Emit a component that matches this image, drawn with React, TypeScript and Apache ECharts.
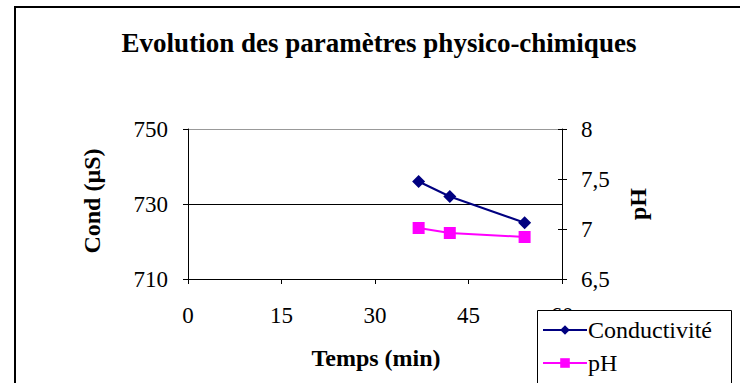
import React, { useEffect, useRef } from "react";
import * as echarts from "echarts";

const chartTitle = "Evolution des paramètres physico-chimiques";
const xTitle = "Temps (min)";
const leftTitle = "Cond (µS)";
const rightTitle = "pH";
const times = [37, 42, 54];
const conductivity = [736, 732, 725];
const phValues = [7.01, 6.96, 6.92];
const seriesNames = ["Conductivité", "pH"];

const FONT = "'Liberation Serif', 'Times New Roman', serif";

export default function App() {
  const ref = useRef<HTMLDivElement>(null);
  useEffect(() => {
    if (!ref.current) return;
    const chart = echarts.init(ref.current, null, { renderer: "svg" });
    const axisLabelStyle = { color: "#000", fontFamily: FONT, fontSize: 23 };
    chart.setOption({
      animation: false,
      backgroundColor: "#fff",
      textStyle: { fontFamily: FONT },
      grid: { left: 188, right: 178, top: 129, bottom: 104 },
      xAxis: {
        type: "value",
        min: 0,
        max: 60,
        interval: 15,
        axisLine: { show: true, onZero: false, lineStyle: { color: "#000", width: 1 } },
        axisTick: { show: true, length: 5, lineStyle: { color: "#000" } },
        axisLabel: { ...axisLabelStyle, margin: 25 },
        splitLine: { show: false },
      },
      yAxis: [
        {
          type: "value",
          min: 710,
          max: 750,
          interval: 20,
          position: "left",
          axisLine: { show: true, lineStyle: { color: "#000", width: 1 } },
          axisTick: { show: true, length: 5, lineStyle: { color: "#000" } },
          axisLabel: { ...axisLabelStyle, margin: 20 },
          splitLine: { show: true, lineStyle: { color: ["#000", "#000", "#999"], width: 1 } },
        },
        {
          type: "value",
          min: 6.5,
          max: 8,
          interval: 0.5,
          position: "right",
          axisLine: { show: true, lineStyle: { color: "#000", width: 1 } },
          axisTick: { show: true, length: 5, lineStyle: { color: "#000" } },
          axisLabel: {
            ...axisLabelStyle,
            margin: 19,
            formatter: (v: number) => String(v).replace(".", ","),
          },
          splitLine: { show: false },
        },
        {
          type: "value",
          min: 6.5,
          max: 8,
          interval: 0.5,
          position: "right",
          axisLine: { show: false },
          axisTick: { show: true, inside: true, length: 4, lineStyle: { color: "#000" } },
          axisLabel: { show: false },
          splitLine: { show: false },
        },
      ],
      legend: {
        left: 542,
        top: 318,
        z: 100,
        orient: "vertical",
        itemWidth: 44,
        itemHeight: 12,
        itemGap: 9,
        padding: 0,
        textStyle: { color: "#000", fontFamily: FONT, fontSize: 24, padding: [0, 0, 0, -4] },
        data: seriesNames,
      },
      graphic: [
        {
          type: "rect",
          shape: { x: 15, y: 7, width: 800, height: 500 },
          style: { fill: "none", stroke: "#000", lineWidth: 2 },
          silent: true,
          z: 0,
        },
        {
          type: "rect",
          shape: { x: 537.5, y: 310.5, width: 194, height: 100 },
          style: { fill: "#fff", stroke: "#000", lineWidth: 1 },
          silent: true,
          z: 50,
        },
        {
          type: "text",
          x: 379,
          y: 43,
          style: {
            text: chartTitle,
            fill: "#000",
            font: `bold 27px ${FONT}`,
            textAlign: "center",
            textVerticalAlign: "middle",
          },
        },
        {
          type: "text",
          x: 376,
          y: 358,
          style: {
            text: xTitle,
            fill: "#000",
            font: `bold 24px ${FONT}`,
            textAlign: "center",
            textVerticalAlign: "middle",
          },
        },
        {
          type: "text",
          x: 92,
          y: 201,
          rotation: Math.PI / 2,
          style: {
            text: leftTitle,
            fill: "#000",
            font: `bold 24px ${FONT}`,
            textAlign: "center",
            textVerticalAlign: "middle",
          },
        },
        {
          type: "text",
          x: 638,
          y: 204,
          rotation: Math.PI / 2,
          style: {
            text: rightTitle,
            fill: "#000",
            font: `bold 24px ${FONT}`,
            textAlign: "center",
            textVerticalAlign: "middle",
          },
        },
      ],
      series: [
        {
          name: seriesNames[0],
          type: "line",
          yAxisIndex: 0,
          data: times.map((t, i) => [t, conductivity[i]]),
          symbol: "diamond",
          symbolSize: 13,
          itemStyle: { color: "#000080" },
          lineStyle: { color: "#000080", width: 2 },
        },
        {
          name: seriesNames[1],
          type: "line",
          yAxisIndex: 1,
          data: times.map((t, i) => [t, phValues[i]]),
          symbol: "rect",
          symbolSize: 12,
          itemStyle: { color: "#FF00FF" },
          lineStyle: { color: "#FF00FF", width: 2 },
        },
      ],
    });
    return () => chart.dispose();
  }, []);
  return (
    <div
      ref={ref}
      style={{ position: "fixed", left: 0, top: 0, width: 740, height: 383 }}
    />
  );
}
